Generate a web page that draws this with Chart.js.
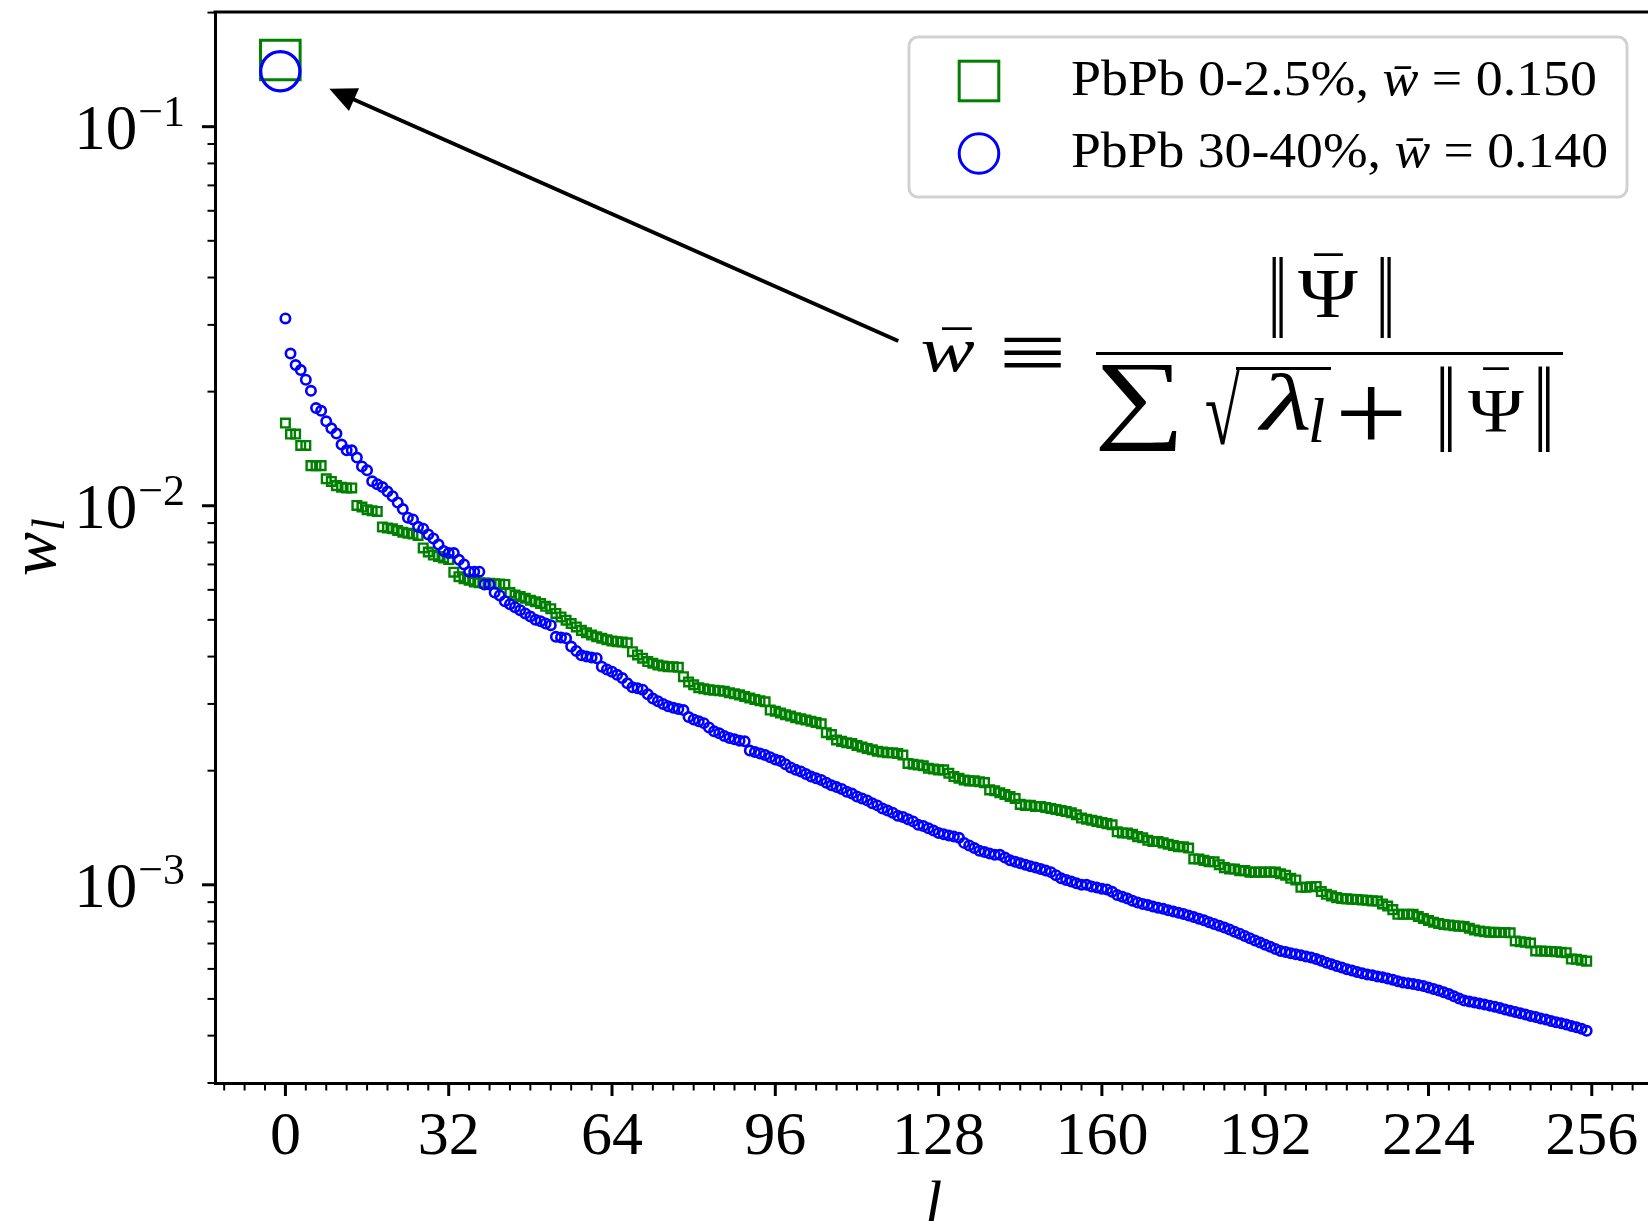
<!DOCTYPE html>
<html>
<head>
<meta charset="utf-8">
<script src="https://cdn.jsdelivr.net/npm/chart.js@4.4.1/dist/chart.umd.min.js"></script>
<style>
  html, body { margin: 0; padding: 0; background: #fff; overflow: hidden; }
  canvas { display: block; }
</style>
</head>
<body>
<canvas id="chart-area" width="1660" height="1221"></canvas>
<script>
// mode weights w_l, l = 0 .. 255
var wCentral = [
  0.01652, 0.01546, 0.01546, 0.01442, 0.01442, 0.01276, 0.01276, 0.01276, 0.01178, 0.01159, 0.01130, 0.01119, 0.01114, 0.01114, 0.01002, 0.00992,
  0.00976, 0.00970, 0.00966, 0.00879, 0.00874, 0.00869, 0.00860, 0.00851, 0.00846, 0.00842, 0.00835, 0.00774, 0.00755, 0.00741, 0.00735, 0.00728,
  0.00721, 0.00668, 0.00650, 0.00642, 0.00636, 0.00629, 0.00626, 0.00625, 0.00624, 0.00623, 0.00622, 0.00620, 0.00590, 0.00581, 0.00576, 0.00570,
  0.00563, 0.00558, 0.00552, 0.00543, 0.00535, 0.00520, 0.00509, 0.00499, 0.00489, 0.00479, 0.00469, 0.00462, 0.00456, 0.00451, 0.00447, 0.00443,
  0.00440, 0.00438, 0.00437, 0.00435, 0.00412, 0.00404, 0.00396, 0.00388, 0.00384, 0.00380, 0.00378, 0.00376, 0.00376, 0.00375, 0.00354, 0.00343,
  0.00337, 0.00331, 0.00329, 0.00327, 0.00326, 0.00325, 0.00324, 0.00321, 0.00319, 0.00317, 0.00314, 0.00311, 0.00308, 0.00306, 0.00304, 0.00289,
  0.00287, 0.00284, 0.00281, 0.00279, 0.00276, 0.00274, 0.00272, 0.00270, 0.00268, 0.00266, 0.00252, 0.00249, 0.00241, 0.00239, 0.00237, 0.00236,
  0.00233, 0.00231, 0.00229, 0.00227, 0.00225, 0.00224, 0.00223, 0.00223, 0.00222, 0.00220, 0.00209, 0.00208, 0.00207, 0.00206, 0.00203, 0.00202,
  0.00201, 0.00201, 0.00197, 0.00193, 0.00191, 0.00189, 0.00188, 0.00188, 0.00187, 0.00186, 0.00178, 0.00177, 0.00175, 0.00173, 0.00171, 0.00169,
  0.00163, 0.00162, 0.00162, 0.00161, 0.00161, 0.00160, 0.00159, 0.00158, 0.00157, 0.00156, 0.00155, 0.00153, 0.00150, 0.00149, 0.00148, 0.00147,
  0.00146, 0.00145, 0.00144, 0.00138, 0.00137, 0.00137, 0.00136, 0.00134, 0.00133, 0.00131, 0.00130, 0.00130, 0.00129, 0.00128, 0.00127, 0.00126,
  0.00126, 0.00125, 0.00117, 0.00117, 0.00116, 0.00115, 0.00115, 0.00113, 0.00111, 0.00110, 0.00110, 0.00109, 0.00109, 0.00108, 0.00108, 0.00108,
  0.00108, 0.00108, 0.00108, 0.00107, 0.00106, 0.00104, 0.00103, 0.000985, 0.000985, 0.000988, 0.000990, 0.000960, 0.000944, 0.000935, 0.000925, 0.000920,
  0.000918, 0.000916, 0.000915, 0.000912, 0.000910, 0.000907, 0.000906, 0.000890, 0.000879, 0.000860, 0.000836, 0.000836, 0.000836, 0.000836, 0.000825, 0.000815,
  0.000805, 0.000797, 0.000790, 0.000786, 0.000783, 0.000780, 0.000778, 0.000776, 0.000768, 0.000760, 0.000755, 0.000752, 0.000750, 0.000749, 0.000748, 0.000748,
  0.000747, 0.000711, 0.000708, 0.000705, 0.000702, 0.000669, 0.000669, 0.000668, 0.000667, 0.000666, 0.000664, 0.000662, 0.000637, 0.000636, 0.000632, 0.000629
];

var wPeripheral = [
  0.0312, 0.0252, 0.0235, 0.0228, 0.0215, 0.0201, 0.0181, 0.0178, 0.0167, 0.0160, 0.0155, 0.0145, 0.0140, 0.0140, 0.0134, 0.0127,
  0.0124, 0.0116, 0.0114, 0.0112, 0.0109, 0.0106, 0.0102, 0.0098, 0.0093, 0.0092, 0.0088, 0.0087, 0.0084, 0.0082, 0.0079, 0.0076,
  0.0075, 0.0075, 0.0072, 0.0070, 0.0067, 0.0067, 0.0067, 0.0062, 0.0062, 0.0059, 0.0058, 0.0056, 0.0055, 0.0054, 0.0053, 0.0052,
  0.0051, 0.0050, 0.00496, 0.00489, 0.00484, 0.00451, 0.00449, 0.00447, 0.00425, 0.00414, 0.00403, 0.00400, 0.00398, 0.00396, 0.00376, 0.00370,
  0.00365, 0.00358, 0.00351, 0.00340, 0.00332, 0.00330, 0.00327, 0.00318, 0.00310, 0.00305, 0.00300, 0.00296, 0.00293, 0.00291, 0.00289, 0.00277,
  0.00273, 0.00270, 0.00267, 0.00260, 0.00254, 0.00251, 0.00247, 0.00244, 0.00242, 0.00240, 0.00239, 0.00226, 0.00224, 0.00222, 0.00220, 0.00217,
  0.00214, 0.00212, 0.00208, 0.00204, 0.00201, 0.00199, 0.00196, 0.00193, 0.00191, 0.00189, 0.00186, 0.00183, 0.00181, 0.00179, 0.00176, 0.00174,
  0.00171, 0.00169, 0.00167, 0.00164, 0.00162, 0.00159, 0.00157, 0.00155, 0.00152, 0.00151, 0.00149, 0.00147, 0.00144, 0.00143, 0.00141, 0.00139,
  0.00137, 0.00136, 0.00135, 0.00134, 0.00133, 0.00129, 0.00127, 0.00125, 0.00123, 0.00122, 0.00121, 0.00120, 0.00120, 0.00118, 0.00116, 0.00115,
  0.00114, 0.00113, 0.00112, 0.00111, 0.00110, 0.00109, 0.00108, 0.00106, 0.00104, 0.00103, 0.00102, 0.00101, 0.00100, 0.00100, 0.000990, 0.000983,
  0.000976, 0.000972, 0.000958, 0.000940, 0.000930, 0.000920, 0.000908, 0.000898, 0.000890, 0.000884, 0.000876, 0.000870, 0.000864, 0.000857, 0.000850, 0.000844,
  0.000838, 0.000830, 0.000822, 0.000814, 0.000806, 0.000797, 0.000788, 0.000780, 0.000771, 0.000762, 0.000752, 0.000743, 0.000733, 0.000723, 0.000713, 0.000704,
  0.000695, 0.000686, 0.000677, 0.000669, 0.000665, 0.000660, 0.000656, 0.000652, 0.000647, 0.000643, 0.000637, 0.000630, 0.000623, 0.000617, 0.000611, 0.000605,
  0.000599, 0.000594, 0.000589, 0.000584, 0.000580, 0.000577, 0.000573, 0.000570, 0.000566, 0.000562, 0.000557, 0.000552, 0.000550, 0.000547, 0.000544, 0.000541,
  0.000536, 0.000531, 0.000526, 0.000521, 0.000515, 0.000508, 0.000501, 0.000495, 0.000492, 0.000489, 0.000486, 0.000483, 0.000480, 0.000477, 0.000473, 0.000469,
  0.000465, 0.000462, 0.000458, 0.000455, 0.000451, 0.000448, 0.000444, 0.000441, 0.000437, 0.000434, 0.000431, 0.000428, 0.000424, 0.000421, 0.000417, 0.000412
];

// w-bar values, drawn as big markers at l = -1
var wBarLabels = ['PbPb 0-2.5%', 'PbPb 30-40%'];
var wBarValues = [0.150, 0.140];
var wBarPosition = -1;

var xTicks = [0, 32, 64, 96, 128, 160, 192, 224, 256];
var yTicks = [1e-1, 1e-2, 1e-3];
var yTickExponents = ['\u22121', '\u22122', '\u22123'];

var colors = { central: '#008000', peripheral: '#0000ff' };
var SERIF = '"Liberation Serif", "DejaVu Serif", serif';

function toPoints(values) {
  return values.map(function (v, i) { return { x: i, y: v }; });
}

// fit a piece of text (real glyphs) into an ink box
function fitText(ctx, text, font, l, t, r, b) {
  ctx.save();
  ctx.font = font;
  ctx.textAlign = 'left';
  ctx.textBaseline = 'alphabetic';
  var m = ctx.measureText(text);
  var w = m.actualBoundingBoxLeft + m.actualBoundingBoxRight;
  var h = m.actualBoundingBoxAscent + m.actualBoundingBoxDescent;
  var sx = (r - l) / w, sy = (b - t) / h;
  ctx.translate(l + m.actualBoundingBoxLeft * sx, t + m.actualBoundingBoxAscent * sy);
  ctx.scale(sx, sy);
  ctx.fillText(text, 0, 0);
  ctx.restore();
}

// draw pieces [{t, it}] on one baseline, squeezed/stretched to a width
function drawRow(ctx, pieces, size, x, y, targetW) {
  var total = 0;
  pieces.forEach(function (p) {
    ctx.font = (p.it ? 'italic ' : '') + size + 'px ' + SERIF;
    p.w = ctx.measureText(p.t).width;
    total += p.w;
  });
  var sx = targetW / total;
  ctx.save();
  ctx.translate(x, y);
  ctx.scale(sx, 1);
  var cx = 0;
  pieces.forEach(function (p) {
    ctx.font = (p.it ? 'italic ' : '') + size + 'px ' + SERIF;
    ctx.fillText(p.t, cx, 0);
    cx += p.w;
  });
  ctx.restore();
}

var decorations = {
  id: 'decorations',
  afterDraw: function (chart) {
    var ctx = chart.ctx;
    var area = chart.chartArea;
    var xs = chart.scales.x, ys = chart.scales.y;
    ctx.save();
    ctx.fillStyle = '#000';
    ctx.strokeStyle = '#000';

    // top spine
    ctx.lineWidth = 3;
    ctx.beginPath();
    ctx.moveTo(area.left - 1.5, area.top);
    ctx.lineTo(area.right, area.top);
    ctx.stroke();

    // x ticks
    var v, px, py;
    ctx.lineWidth = 2;
    for (v = -12; v <= 268; v += 4) {
      if (v % 32 === 0) continue;
      px = xs.getPixelForValue(v);
      ctx.beginPath(); ctx.moveTo(px, area.bottom); ctx.lineTo(px, area.bottom + 7.5); ctx.stroke();
    }
    ctx.lineWidth = 3;
    ctx.font = '62px ' + SERIF;
    ctx.textAlign = 'center';
    ctx.textBaseline = 'alphabetic';
    xTicks.forEach(function (t) {
      px = xs.getPixelForValue(t);
      ctx.beginPath(); ctx.moveTo(px, area.bottom); ctx.lineTo(px, area.bottom + 13); ctx.stroke();
      ctx.fillText(String(t), px, 1154);
    });

    // y ticks (log minors 2..9)
    ctx.lineWidth = 2;
    for (var e = -4; e <= -1; e++) {
      for (var k = 2; k <= 9; k++) {
        v = k * Math.pow(10, e);
        if (v < ys.min || v > ys.max) continue;
        py = ys.getPixelForValue(v);
        ctx.beginPath(); ctx.moveTo(area.left, py); ctx.lineTo(area.left - 7.5, py); ctx.stroke();
      }
    }
    ctx.lineWidth = 3;
    yTicks.forEach(function (t, i) {
      py = ys.getPixelForValue(t);
      ctx.beginPath(); ctx.moveTo(area.left, py); ctx.lineTo(area.left - 13, py); ctx.stroke();
      ctx.textAlign = 'right';
      ctx.font = '44px ' + SERIF;
      var supW = ctx.measureText(yTickExponents[i]).width;
      ctx.fillText(yTickExponents[i], 185, py - 1);
      ctx.font = '63px ' + SERIF;
      ctx.fillText('10', 185 - supW - 1, py + 22);
    });

    // axis titles
    ctx.textAlign = 'center';
    ctx.font = 'italic 62px ' + SERIF;
    ctx.fillText('l', (area.left + area.right) / 2, 1223);

    ctx.save();
    ctx.translate(55, (area.top + area.bottom) / 2);
    ctx.rotate(-Math.PI / 2);
    ctx.textAlign = 'left';
    ctx.font = 'italic 66px ' + SERIF;
    var ww = ctx.measureText('w').width;
    ctx.font = 'italic 46px ' + SERIF;
    var lw = ctx.measureText('l').width;
    var u0 = -(ww + lw) / 2;
    ctx.font = 'italic 66px ' + SERIF;
    ctx.fillText('w', u0, 0);
    ctx.font = 'italic 46px ' + SERIF;
    ctx.fillText('l', u0 + ww + 1, 9);
    ctx.restore();

    // arrow from the formula to the w-bar markers (data coordinates)
    var tipX = xs.getPixelForValue(8.6), tipY = ys.getPixelForValue(0.126);
    var tailX = xs.getPixelForValue(120.1), tailY = ys.getPixelForValue(0.0272);
    var dx = tailX - tipX, dy = tailY - tipY, len = Math.sqrt(dx * dx + dy * dy);
    var ux = dx / len, uy = dy / len;
    var hl = 27, hw = 12.5;
    ctx.lineWidth = 4;
    ctx.beginPath();
    ctx.moveTo(tailX, tailY);
    ctx.lineTo(tipX + ux * (hl - 2), tipY + uy * (hl - 2));
    ctx.stroke();
    ctx.beginPath();
    ctx.moveTo(tipX, tipY);
    ctx.lineTo(tipX + ux * hl - uy * hw, tipY + uy * hl + ux * hw);
    ctx.lineTo(tipX + ux * hl + uy * hw, tipY + uy * hl - ux * hw);
    ctx.closePath();
    ctx.fill();

    // formula  w̄ ≡ ‖Ψ̄‖ / (∑ √λ_l + ‖Ψ̄‖)
    var R = '100px ' + SERIF, I = 'italic 100px ' + SERIF;
    fitText(ctx, 'w', I, 922, 342, 974, 372);
    fitText(ctx, '\u00af', R, 942, 326, 972, 329);
    fitText(ctx, '\u2261', R, 1003, 337, 1061, 368);
    ctx.fillRect(1096, 352, 467, 3);
    fitText(ctx, '\u2016', R, 1272, 258, 1283, 338);
    fitText(ctx, '\u03a8', R, 1298, 272, 1358, 318);
    fitText(ctx, '\u00af', R, 1314, 252, 1343, 255);
    fitText(ctx, '\u2016', R, 1380, 258, 1391, 338);
    fitText(ctx, '\u2211', R, 1099, 365, 1177, 452);
    fitText(ctx, '\u221a', R, 1206, 368, 1240, 445);
    ctx.fillRect(1236, 367, 95, 3);
    fitText(ctx, '\u03bb', I, 1257, 373, 1309, 430);
    fitText(ctx, 'l', I, 1311, 398, 1324, 442);
    fitText(ctx, '+', R, 1340, 387, 1402, 440);
    fitText(ctx, '\u2016', R, 1440, 367, 1452, 452);
    fitText(ctx, '\u03a8', R, 1468, 392, 1524, 432);
    fitText(ctx, '\u00af', R, 1483, 366, 1509, 369);
    fitText(ctx, '\u2016', R, 1538, 367, 1550, 452);

    // legend
    ctx.save();
    ctx.lineWidth = 3;
    ctx.strokeStyle = 'rgba(204,204,204,0.9)';
    ctx.fillStyle = 'rgba(255,255,255,0.8)';
    ctx.beginPath();
    ctx.roundRect(909, 37, 718, 160, 9);
    ctx.fill();
    ctx.stroke();
    ctx.restore();

    ctx.lineWidth = 3;
    ctx.strokeStyle = colors.central;
    ctx.strokeRect(979 - 19.8, 81 - 19.8, 39.6, 39.6);
    ctx.strokeStyle = colors.peripheral;
    ctx.beginPath(); ctx.arc(979, 153.5, 19.8, 0, Math.PI * 2); ctx.stroke();

    ctx.fillStyle = '#000';
    ctx.textAlign = 'left';
    drawRow(ctx, [{ t: wBarLabels[0] + ', ' }, { t: 'w\u0304', it: true }, { t: ' = ' + wBarValues[0].toFixed(3) }], 50, 1071, 95, 526);
    drawRow(ctx, [{ t: wBarLabels[1] + ', ' }, { t: 'w\u0304', it: true }, { t: ' = ' + wBarValues[1].toFixed(3) }], 50, 1071, 167, 537);

    ctx.restore();
  }
};

var ctx = document.getElementById('chart-area').getContext('2d');
var chart = new Chart(ctx, {
  type: 'scatter',
  data: {
    datasets: [
      {
        label: wBarLabels[1] + ' w-bar',
        data: [{ x: wBarPosition, y: wBarValues[1] }],
        pointStyle: 'circle', pointRadius: 19.6, pointBorderWidth: 3.2,
        pointBorderColor: colors.peripheral, pointBackgroundColor: 'rgba(0,0,0,0)',
        order: 0
      },
      {
        label: wBarLabels[0] + ' w-bar',
        data: [{ x: wBarPosition, y: wBarValues[0] }],
        pointStyle: 'rect', pointRadius: 28, pointBorderWidth: 3,
        pointBorderColor: colors.central, pointBackgroundColor: 'rgba(0,0,0,0)',
        order: 1
      },
      {
        label: wBarLabels[1],
        data: toPoints(wPeripheral),
        pointStyle: 'circle', pointRadius: 4.7, pointBorderWidth: 2.6,
        pointBorderColor: colors.peripheral, pointBackgroundColor: 'rgba(0,0,0,0)',
        order: 2
      },
      {
        label: wBarLabels[0],
        data: toPoints(wCentral),
        pointStyle: 'rect', pointRadius: 6.1, pointBorderWidth: 2.4,
        pointBorderColor: colors.central, pointBackgroundColor: 'rgba(0,0,0,0)',
        order: 3
      }
    ]
  },
  options: {
    responsive: false,
    animation: false,
    devicePixelRatio: 1,
    events: [],
    layout: { autoPadding: false, padding: { top: 12, right: 8, left: 0, bottom: 0 } },
    plugins: { legend: { display: false }, tooltip: { enabled: false } },
    scales: {
      x: {
        type: 'linear', min: -13.8, max: 267.8,
        ticks: { display: false },
        grid: { display: false },
        border: { display: true, width: 3, color: '#000' },
        afterFit: function (s) { s.height = 138; }
      },
      y: {
        type: 'logarithmic', min: 3.04e-4, max: 0.2007,
        ticks: { display: false },
        grid: { display: false },
        border: { display: true, width: 3, color: '#000' },
        afterFit: function (s) { s.width = 215; }
      }
    }
  },
  plugins: [decorations]
});
</script>
</body>
</html>
